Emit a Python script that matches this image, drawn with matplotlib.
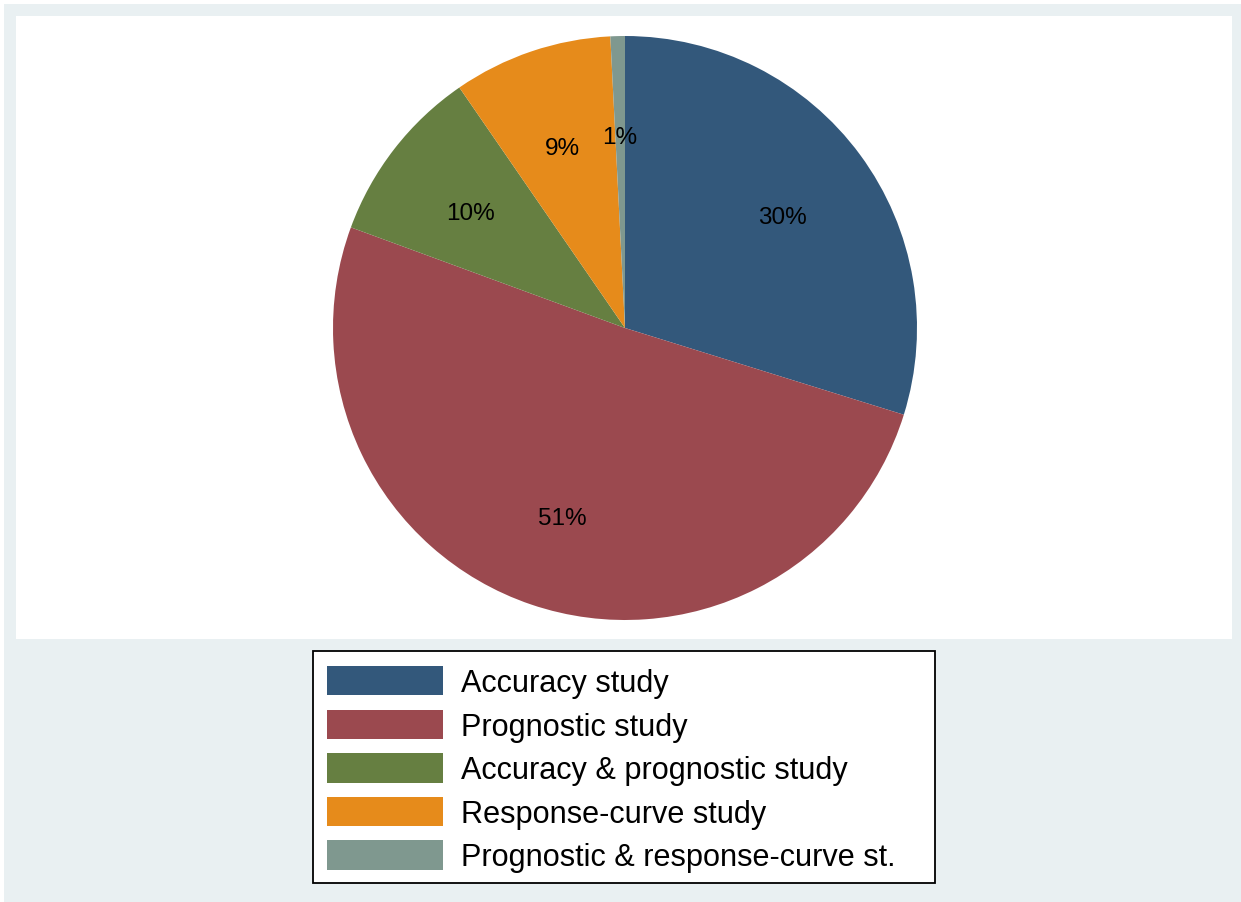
import matplotlib.pyplot as plt
import matplotlib.transforms as mtransforms
from matplotlib.patches import Rectangle, Patch

# Study type shares (percent of studies)
categories = ["Accuracy study", "Prognostic study", "Accuracy & prognostic study",
              "Response-curve study", "Prognostic & response-curve st."]
shares = [29.8, 50.8, 9.8, 8.8, 0.8]
colors = ["#33587b", "#9b494f", "#667f41", "#e68b1b", "#7f988f"]

W, H = 1241, 903
plt.rcParams['font.family'] = ['Liberation Sans', 'DejaVu Sans']
fig = plt.figure(figsize=(W / 100, H / 100), dpi=100, facecolor="white")

# outer graph region and inner plot region
fig.patches.append(Rectangle((4 / W, 0), 1, 1 - 5 / H, transform=fig.transFigure,
                             facecolor="#e9f0f2", edgecolor="none", zorder=-2))
fig.patches.append(Rectangle((16 / W, 1 - 640 / H), (1232 - 16) / W, (640 - 17) / H,
                             transform=fig.transFigure, facecolor="white",
                             edgecolor="none", zorder=-1))

cx, cy, r = 625, 329, 292
ax = fig.add_axes([(cx - r) / W, 1 - (cy + r) / H, 2 * r / W, 2 * r / H])
ax.set_zorder(2)
ax.set_facecolor("none")
wedges, texts, autotexts = ax.pie(
    shares, colors=colors, startangle=90, counterclock=False,
    autopct=lambda p: f"{p:.0f}%", pctdistance=0.67,
    wedgeprops=dict(edgecolor="none"), textprops=dict(fontsize=17.5, color="black"),
    radius=1)
shift = mtransforms.ScaledTranslation(0, -5 / 100, fig.dpi_scale_trans)
for t in autotexts:
    t.set_transform(t.get_transform() + shift)
ax.set_xlim(-1, 1)
ax.set_ylim(-1, 1)
ax.axis("off")

# legend frame
fig.patches.append(Rectangle((313 / W, 1 - 884 / H), (935 - 313) / W, (884 - 652) / H,
                             transform=fig.transFigure, facecolor="white",
                             edgecolor="black", linewidth=1.3, zorder=1))
handles = [Patch(facecolor=c, edgecolor="none") for c in colors]
leg = fig.legend(handles, categories, loc="upper left",
                 bbox_to_anchor=(327 / W, 1 - 667 / H), frameon=False,
                 fontsize=22.1, borderpad=0, borderaxespad=0,
                 handlelength=3.78, handleheight=1.1, handletextpad=0.6,
                 labelspacing=0.37)
leg.set_zorder(3)

fig.savefig("out.png", dpi=100, facecolor="white")
